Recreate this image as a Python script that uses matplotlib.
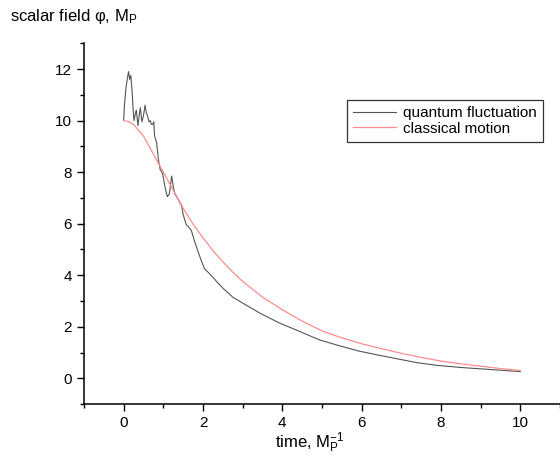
import matplotlib
matplotlib.use('Agg')
import matplotlib.pyplot as plt
from matplotlib.ticker import MultipleLocator

plt.rcParams['font.family'] = ['Liberation Sans', 'DejaVu Sans']
plt.rcParams['mathtext.default'] = 'regular'

# ---------- DATA ----------
t_quantum = [0.0, 0.02, 0.06, 0.10, 0.125, 0.15, 0.18, 0.21, 0.24, 0.26,
             0.30, 0.32, 0.36, 0.40, 0.42, 0.46, 0.50, 0.54, 0.57, 0.60,
             0.64, 0.67, 0.70, 0.73, 0.76, 0.78, 0.83, 0.875, 0.92, 0.96,
             0.98, 1.02, 1.06, 1.10, 1.15, 1.19, 1.21, 1.25, 1.29, 1.33,
             1.375, 1.42, 1.46, 1.50, 1.54, 1.58, 1.625, 1.71, 1.79, 1.875,
             1.96, 2.04, 2.17, 2.29, 2.375, 2.5, 2.75, 3.0, 3.42, 3.92,
             4.42, 4.92, 5.42, 5.92, 6.42, 6.92, 7.42, 7.92, 8.5, 9.17, 10.0]
phi_quantum = [10.0, 10.6, 11.3, 11.7, 11.9, 11.6, 11.75, 11.2, 10.4, 10.0,
               10.3, 10.4, 9.8, 10.3, 10.5, 9.95, 10.2, 10.6, 10.3, 10.2,
               9.95, 10.0, 9.85, 9.85, 9.95, 9.4, 9.15, 8.5, 8.1, 8.0,
               7.95, 7.6, 7.3, 7.05, 7.15, 7.6, 7.85, 7.45, 7.15, 7.05,
               6.95, 6.8, 6.7, 6.35, 6.15, 5.95, 5.9, 5.72, 5.3, 4.92,
               4.55, 4.25, 4.05, 3.85, 3.7, 3.5, 3.15, 2.92, 2.54, 2.15,
               1.83, 1.5, 1.27, 1.06, 0.9, 0.75, 0.6, 0.5, 0.42, 0.35, 0.26]

t_classical = [0.0, 0.125, 0.25, 0.5, 0.75, 1.0, 1.25, 1.5, 1.75, 2.0,
               2.25, 2.5, 2.75, 3.0, 3.5, 4.0, 4.5, 5.0, 5.5, 6.0,
               6.5, 7.0, 7.5, 8.0, 8.5, 9.0, 9.5, 10.0]
phi_classical = [10.0, 9.96, 9.85, 9.4, 8.7, 8.0, 7.3, 6.6, 5.98, 5.45,
                 4.96, 4.52, 4.12, 3.76, 3.15, 2.66, 2.22, 1.84, 1.57, 1.34,
                 1.15, 0.97, 0.81, 0.67, 0.56, 0.47, 0.38, 0.3]

# ---------- FIGURE ----------
fig = plt.figure(figsize=(5.6, 4.65), dpi=100)
ax = fig.add_axes([0.15, 0.131, 0.85, 0.776])

ax.plot(t_quantum, phi_quantum, color='#555555', lw=0.8, label='quantum fluctuation')
ax.plot(t_classical, phi_classical, color='#ff8c8c', lw=0.9, label='classical motion')

ax.set_xlim(-1, 11)
ax.set_ylim(-1, 13)
ax.xaxis.set_major_locator(MultipleLocator(2))
ax.xaxis.set_minor_locator(MultipleLocator(1))
ax.yaxis.set_major_locator(MultipleLocator(2))
ax.yaxis.set_minor_locator(MultipleLocator(1))
ax.tick_params(which='major', direction='out', length=5, width=1, labelsize=11)
ax.tick_params(which='minor', direction='out', length=3, width=1)

for side in ('top', 'right'):
    ax.spines[side].set_visible(False)
for side in ('left', 'bottom'):
    ax.spines[side].set_linewidth(1.1)

leg = ax.legend(loc='upper right', bbox_to_anchor=(0.965, 0.843),
                fontsize=11, handlelength=2.8, fancybox=False,
                borderaxespad=0, framealpha=1, borderpad=0.4,
                labelspacing=0.12, handletextpad=0.5)
leg.get_frame().set_edgecolor('#333333')
leg.get_frame().set_linewidth(0.9)

fig.text(0.018, 0.965, r'scalar field φ, M$_{P}$', fontsize=12, va='center')
fig.text(0.553, 0.048, r'time, M$_{P}^{-1}$', fontsize=12, ha='center', va='center')

fig.savefig('out.png', dpi=100)
